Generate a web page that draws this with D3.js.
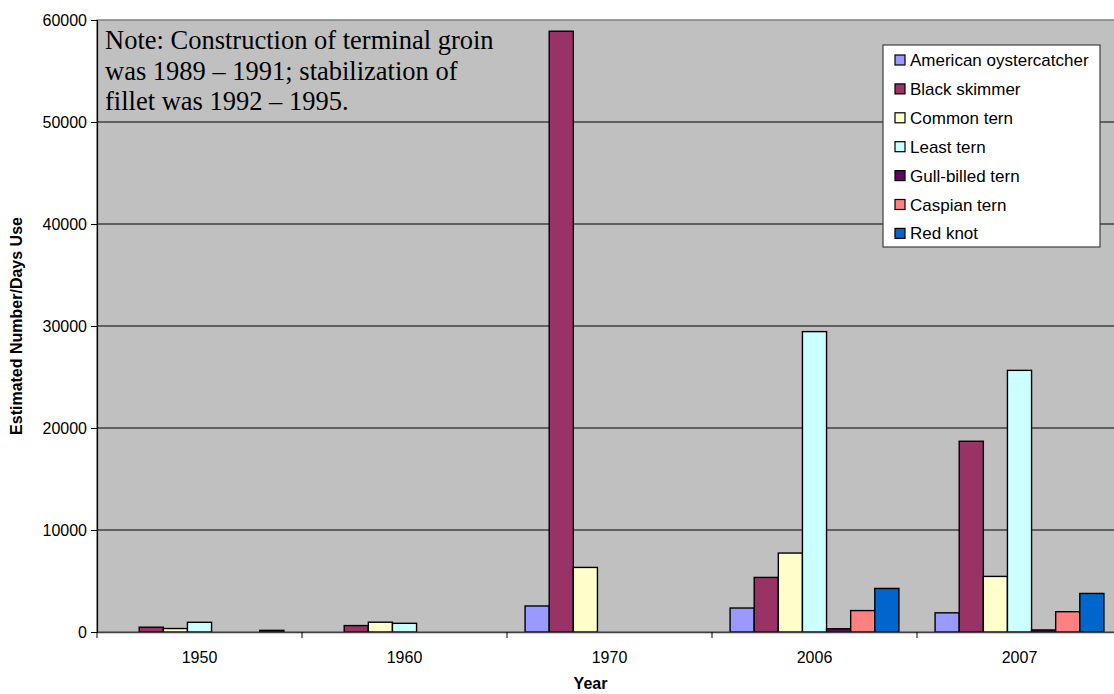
<!DOCTYPE html>
<html>
<head>
<meta charset="utf-8">
<script src="https://cdn.jsdelivr.net/npm/d3@7"></script>
<style>
  body { margin: 0; background: #fff; }
  svg { display: block; font-family: Arial, "Liberation Sans", sans-serif; }
</style>
</head>
<body>
<script>
/********************************************************/
// Chart data
const years = ["1950", "1960", "1970", "2006", "2007"];
const species = [
  "American oystercatcher",
  "Black skimmer",
  "Common tern",
  "Least tern",
  "Gull-billed tern",
  "Caspian tern",
  "Red knot",
];
const oystercatcher = [0, 0, 2550, 2350, 1880];
const blackSkimmer = [470, 630, 58900, 5350, 18700];
const commonTern = [340, 960, 6330, 7740, 5450];
const leastTern = [950, 850, 0, 29450, 25650];
const gullBilled = [0, 0, 0, 320, 200];
const caspianTern = [0, 0, 0, 2100, 1990];
const redKnot = [160, 0, 0, 4270, 3780];
const yTicks = [0, 10000, 20000, 30000, 40000, 50000, 60000];
const noteLines = [
  "Note: Construction of terminal groin",
  "was 1989 \u2013 1991; stabilization of",
  "fillet was 1992 \u2013 1995.",
];
/********************************************************/
const seriesValues = [oystercatcher, blackSkimmer, commonTern, leastTern, gullBilled, caspianTern, redKnot];
const colors = ["#9999FF", "#993366", "#FFFFCC", "#CCFFFF", "#660066", "#FF8080", "#0066CC"];

const svgWidth = 1114;
const svgHeight = 694;
const plot = { left: 97, right: 1122, top: 20, bottom: 632 };

const svg = d3.select("body").append("svg").attr("width", svgWidth).attr("height", svgHeight);

const x0 = d3.scaleBand().domain(years).range([plot.left, plot.right]).padding(0);
const x1 = d3.scaleBand().domain(species).range([0, x0.bandwidth()]).paddingInner(0).paddingOuter(0.75);
const y = d3.scaleLinear().domain([0, 60000]).range([plot.bottom, plot.top]);

// plot area
svg.append("rect")
  .attr("x", plot.left).attr("y", plot.top)
  .attr("width", plot.right - plot.left).attr("height", plot.bottom - plot.top)
  .attr("fill", "#C0C0C0").attr("stroke", "#808080").attr("stroke-width", 1.5);

// gridlines
svg.append("g")
  .selectAll("line")
  .data(yTicks.filter((d) => d > 0 && d < 60000))
  .enter()
  .append("line")
  .attr("x1", plot.left).attr("x2", plot.right)
  .attr("y1", (d) => y(d)).attr("y2", (d) => y(d))
  .attr("stroke", "#000").attr("stroke-width", 1.1);

// bars
const table = [];
years.forEach((yr, i) => {
  species.forEach((sp, j) => {
    table.push({ year: yr, species: sp, value: seriesValues[j][i], color: colors[j] });
  });
});

svg.append("g")
  .selectAll("rect")
  .data(table.filter((d) => d.value > 0))
  .enter()
  .append("rect")
  .attr("x", (d) => x0(d.year) + x1(d.species))
  .attr("y", (d) => y(d.value))
  .attr("width", x1.bandwidth())
  .attr("height", (d) => y(0) - y(d.value))
  .attr("fill", (d) => d.color)
  .attr("stroke", "#000")
  .attr("stroke-width", 1.4);

// y axis
const leftAxis = d3.axisLeft(y).tickValues(yTicks).tickSize(6).tickPadding(4).tickFormat(d3.format("d"));
const gy = svg.append("g").attr("transform", `translate(${plot.left},0)`).call(leftAxis);
gy.select(".domain").attr("stroke", "#000").attr("stroke-width", 1.2);
gy.selectAll("text").attr("font-size", "16px").attr("fill", "#000");

// x axis
const bottomAxis = d3.axisBottom(x0).tickSize(0).tickPadding(20);
const gx = svg.append("g").attr("transform", `translate(0,${plot.bottom})`).call(bottomAxis);
gx.select(".domain").attr("stroke", "#404040").attr("stroke-width", 1.5);
gx.selectAll("text").attr("font-size", "16px").attr("fill", "#000");
gx.selectAll(".sep")
  .data(years)
  .enter()
  .append("line")
  .attr("x1", (d) => x0(d)).attr("x2", (d) => x0(d))
  .attr("y1", 0).attr("y2", 6)
  .attr("stroke", "#000");

// axis titles
svg.append("text")
  .attr("x", (plot.left + plot.right) / 2 - 19)
  .attr("y", 689)
  .attr("text-anchor", "middle")
  .attr("font-size", "16px").attr("font-weight", "bold")
  .text("Year");

svg.append("text")
  .attr("transform", "translate(22,326) rotate(-90)")
  .attr("text-anchor", "middle")
  .attr("font-size", "16px").attr("font-weight", "bold")
  .text("Estimated Number/Days Use");

// note
svg.append("g")
  .selectAll("text")
  .data(noteLines)
  .enter()
  .append("text")
  .attr("x", 105)
  .attr("y", (d, i) => 49 + i * 30.5)
  .attr("font-family", "'Liberation Serif', 'Times New Roman', serif")
  .attr("font-size", "26.5px")
  .attr("fill", "#000")
  .text((d) => d);

// legend
const legend = svg.append("g");
legend.append("rect")
  .attr("x", 883).attr("y", 45).attr("width", 217).attr("height", 202)
  .attr("fill", "#fff").attr("stroke", "#404040").attr("stroke-width", 1.2);
const items = legend.selectAll(".item")
  .data(species)
  .enter()
  .append("g")
  .attr("transform", (d, i) => `translate(895,${60 + i * 28.9})`);
items.append("rect")
  .attr("x", 0).attr("y", -5).attr("width", 10).attr("height", 10)
  .attr("fill", (d, i) => colors[i]).attr("stroke", "#000").attr("stroke-width", 1.2);
items.append("text")
  .attr("x", 15).attr("y", 6)
  .attr("font-size", "17px")
  .text((d) => d);
/********************************************************/
</script>
</body>
</html>
